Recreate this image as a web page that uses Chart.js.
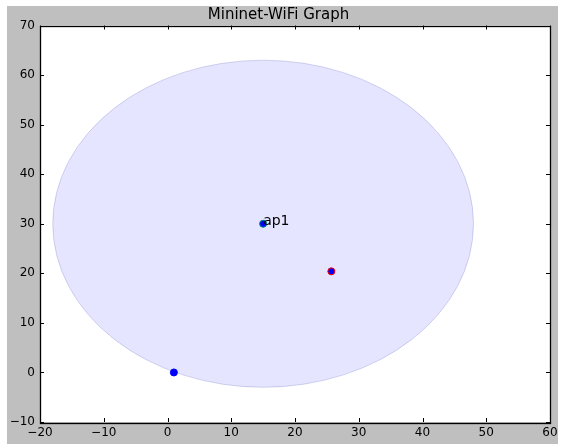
<!DOCTYPE html>
<html>
<head>
<meta charset="utf-8">
<script src="https://cdn.jsdelivr.net/npm/chart.js@4"></script>
<style>
  html, body { margin: 0; padding: 0; background: #ffffff; }
  #wrap { position: absolute; left: 7px; top: 6px; width: 551px; height: 438px; background: #bfbfbf; }
</style>
</head>
<body>
<div id="wrap"><canvas id="graph" width="551" height="438"></canvas></div>
<script>
// Access points
const apNames = ["ap1"];
const apX = [15];
const apY = [30];
const apRange = [33];

// Stations
const staX = [1, 25.7];
const staY = [0, 20.4];

// Axis limits and ticks
const xTicks = [-20, -10, 0, 10, 20, 30, 40, 50, 60];
const yTicks = [-10, 0, 10, 20, 30, 40, 50, 60, 70];

const FONT = "'DejaVu Sans', sans-serif";

const minus = v => String(v).replace("-", "\u2212");

// Plot frame, inward ticks, range circle and node labels
const graphPlugin = {
  id: "graphPlugin",
  beforeDatasetsDraw(chart) {
    const { ctx, chartArea: a, scales } = chart;
    ctx.save();
    ctx.fillStyle = "#ffffff";
    ctx.fillRect(a.left, a.top, a.right - a.left, a.bottom - a.top);

    // range circle for each access point
    ctx.beginPath();
    ctx.rect(a.left, a.top, a.right - a.left, a.bottom - a.top);
    ctx.clip();
    apX.forEach((x, i) => {
      const cx = scales.x.getPixelForValue(x);
      const cy = scales.y.getPixelForValue(apY[i]);
      const rx = Math.abs(scales.x.getPixelForValue(x + apRange[i]) - cx);
      const ry = Math.abs(scales.y.getPixelForValue(apY[i] + apRange[i]) - cy);
      ctx.beginPath();
      ctx.ellipse(cx, cy, rx, ry, 0, 0, Math.PI * 2);
      ctx.fillStyle = "rgba(0, 0, 255, 0.1)";
      ctx.fill();
      ctx.strokeStyle = "rgba(0, 0, 140, 0.15)";
      ctx.lineWidth = 1;
      ctx.stroke();
    });
    ctx.restore();
  },
  afterDatasetsDraw(chart) {
    const { ctx, chartArea: a, scales } = chart;
    ctx.save();

    // labels
    ctx.fillStyle = "#000000";
    ctx.font = "14px " + FONT;
    ctx.textAlign = "left";
    ctx.textBaseline = "alphabetic";
    apNames.forEach((name, i) => {
      ctx.fillText(name, scales.x.getPixelForValue(apX[i]), scales.y.getPixelForValue(apY[i]) + 1);
    });

    // ticks inside, all four sides
    ctx.strokeStyle = "#000000";
    ctx.lineWidth = 1;
    const len = 4;
    ctx.beginPath();
    xTicks.forEach(v => {
      const px = Math.round(scales.x.getPixelForValue(v)) + 0.5;
      ctx.moveTo(px, a.bottom); ctx.lineTo(px, a.bottom - len);
      ctx.moveTo(px, a.top); ctx.lineTo(px, a.top + len);
    });
    yTicks.forEach(v => {
      const py = Math.round(scales.y.getPixelForValue(v)) + 0.5;
      ctx.moveTo(a.left, py); ctx.lineTo(a.left + len, py);
      ctx.moveTo(a.right, py); ctx.lineTo(a.right - len, py);
    });
    ctx.stroke();

    // frame
    ctx.lineWidth = 1.3;
    ctx.strokeRect(Math.round(a.left) + 0.5, Math.round(a.top) + 0.5,
      Math.round(a.right - a.left), Math.round(a.bottom - a.top));
    ctx.restore();
  }
};

const ctx = document.getElementById("graph").getContext("2d");
new Chart(ctx, {
  type: "scatter",
  data: {
    datasets: [
      {
        label: "stations",
        data: staX.map((x, i) => ({ x: x, y: staY[i] })),
        backgroundColor: "#0000ff",
        borderColor: ["#0000ff", "#ff0000"],
        borderWidth: 1,
        pointRadius: 3.5
      },
      {
        label: "access points",
        data: apX.map((x, i) => ({ x: x, y: apY[i] })),
        backgroundColor: "#0000ff",
        borderColor: "#008080",
        borderWidth: 1,
        pointRadius: 3.5
      }
    ]
  },
  options: {
    responsive: false,
    animation: false,
    layout: { padding: { left: 0, right: 8, top: 0, bottom: 0 } },
    plugins: {
      legend: { display: false },
      tooltip: { enabled: false },
      title: {
        display: true,
        text: "Mininet-WiFi Graph",
        color: "#000000",
        font: { family: FONT, size: 15, weight: "normal", lineHeight: 1.2 },
        padding: { top: 0, bottom: 1.5 }
      }
    },
    scales: {
      x: {
        type: "linear",
        min: xTicks[0],
        max: xTicks[xTicks.length - 1],
        afterBuildTicks: s => { s.ticks = xTicks.map(v => ({ value: v })); },
        afterFit: s => { s.height = 22; s.paddingLeft = 0; s.paddingRight = 0; },
        grid: { display: false, drawTicks: false },
        border: { display: false },
        ticks: {
          padding: 4,
          color: "#000000",
          maxRotation: 0,
          font: { family: FONT, size: 12 },
          callback: v => minus(v)
        }
      },
      y: {
        type: "linear",
        min: yTicks[0],
        max: yTicks[yTicks.length - 1],
        afterBuildTicks: s => { s.ticks = yTicks.map(v => ({ value: v })); },
        afterFit: s => { s.width = 33; s.paddingTop = 0; s.paddingBottom = 0; },
        grid: { display: false, drawTicks: false },
        border: { display: false },
        ticks: {
          padding: 5,
          color: "#000000",
          font: { family: FONT, size: 12 },
          callback: v => minus(v)
        }
      }
    }
  },
  plugins: [graphPlugin]
});
</script>
</body>
</html>
